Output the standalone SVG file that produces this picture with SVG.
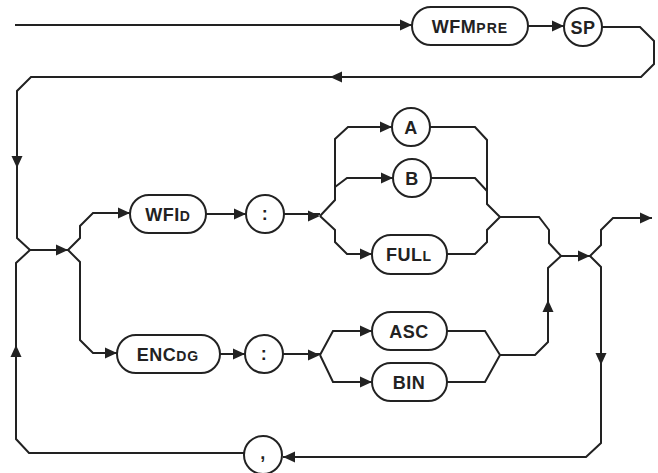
<svg xmlns="http://www.w3.org/2000/svg" width="658" height="473" viewBox="0 0 658 473">
<defs>
<path id="ah" d="M0,0 L-12,-5.5 L-12,5.5 Z"/>
<style>
.ln{fill:none;stroke:#222;stroke-width:2;stroke-linejoin:miter}
.nd{fill:#fff;stroke:#222;stroke-width:2}
.ar{fill:#222}
.t{font-family:"Liberation Sans",Arial,sans-serif;font-weight:bold;font-size:18px;fill:#222;text-anchor:middle;letter-spacing:0.5px}
.s{font-size:14px;letter-spacing:1px}
</style>
</defs>
<rect width="658" height="473" fill="#fff"/>
<g id="connectors">
<path class="ln" d="M15,25 H412"/>
<path class="ln" d="M528,26 H564"/>
<path class="ln" d="M602,27 H640 L654,41 V64 L641,77 H31 L17,91 V238 L30,250 H68"/>
<path class="ln" d="M244,453 H29 L16,439 V263 L30,250"/>
<path class="ln" d="M68,250 L80,238 V226 L93,213 H130"/>
<path class="ln" d="M68,250 L80,262 V340 L93,353 H117"/>
<path class="ln" d="M206,214 H246"/>
<path class="ln" d="M284,214 H320"/>
<path class="ln" d="M320,216 L335,200 V139 L348,127 H392"/>
<path class="ln" d="M335,187 L347,178 H393"/>
<path class="ln" d="M320,216 L335,230 V242 L347,254 H372"/>
<path class="ln" d="M430,127 H475 L487,140 V204 L500,217"/>
<path class="ln" d="M431,178 H475 L487,191"/>
<path class="ln" d="M447,254 H475 L487,242 V230 L500,217"/>
<path class="ln" d="M500,217 H539 L549,230 V243 L561,256 H590"/>
<path class="ln" d="M590,256 L601,245 V230 L613,218 H652"/>
<path class="ln" d="M590,256 L601,267 V443 L586,457 H283"/>
<path class="ln" d="M220,354 H245"/>
<path class="ln" d="M283,354 H320"/>
<path class="ln" d="M320,355 L333,331 H372"/>
<path class="ln" d="M320,355 L333,382 H372"/>
<path class="ln" d="M447,331 H485 L500,355 L485,382 H447"/>
<path class="ln" d="M500,355 H535 L548,342 V268 L561,256"/>
<g class="ar">
<use href="#ah" transform="translate(412,25)"/>
<use href="#ah" transform="translate(564,26)"/>
<use href="#ah" transform="translate(330,77) rotate(180)"/>
<use href="#ah" transform="translate(17,168) rotate(90)"/>
<use href="#ah" transform="translate(68,250)"/>
<use href="#ah" transform="translate(130,213)"/>
<use href="#ah" transform="translate(117,353)"/>
<use href="#ah" transform="translate(246,214)"/>
<use href="#ah" transform="translate(320,216)"/>
<use href="#ah" transform="translate(245,354)"/>
<use href="#ah" transform="translate(320,355)"/>
<use href="#ah" transform="translate(392,127)"/>
<use href="#ah" transform="translate(393,178)"/>
<use href="#ah" transform="translate(372,254)"/>
<use href="#ah" transform="translate(372,331)"/>
<use href="#ah" transform="translate(372,382)"/>
<use href="#ah" transform="translate(548,300) rotate(-90)"/>
<use href="#ah" transform="translate(590,256)"/>
<use href="#ah" transform="translate(652,218)"/>
<use href="#ah" transform="translate(601,365) rotate(90)"/>
<use href="#ah" transform="translate(283,457) rotate(180)"/>
<use href="#ah" transform="translate(16,345) rotate(-90)"/>
</g>
</g>
<g id="wfmpre"><rect class="nd" x="412" y="7" width="116" height="38" rx="19"/><text class="t" x="470" y="33">WFM<tspan class="s">PRE</tspan></text></g>
<g id="sp"><circle class="nd" cx="583" cy="27" r="19"/><text class="t" x="583" y="33.5">SP</text></g>
<g id="wfid"><rect class="nd" x="130" y="195" width="76" height="38" rx="19"/><text class="t" x="168" y="220.5">WFI<tspan class="s">D</tspan></text></g>
<g id="colon1"><circle class="nd" cx="265" cy="214" r="19"/><text class="t" x="265" y="220">:</text></g>
<g id="encdg"><rect class="nd" x="117" y="335" width="103" height="38" rx="19"/><text class="t" x="168" y="360.5">ENC<tspan class="s">DG</tspan></text></g>
<g id="colon2"><circle class="nd" cx="264" cy="354" r="19"/><text class="t" x="264" y="360">:</text></g>
<g id="a"><circle class="nd" cx="411" cy="127" r="19"/><text class="t" x="411" y="133.5">A</text></g>
<g id="b"><circle class="nd" cx="412" cy="178" r="19"/><text class="t" x="412" y="184.5">B</text></g>
<g id="full"><rect class="nd" x="372" y="235" width="75" height="39" rx="19"/><text class="t" x="409" y="261">FUL<tspan class="s">L</tspan></text></g>
<g id="asc"><rect class="nd" x="372" y="312" width="75" height="38" rx="19"/><text class="t" x="409" y="337.5">ASC</text></g>
<g id="bin"><rect class="nd" x="372" y="363" width="75" height="38" rx="19"/><text class="t" x="409" y="388.5">BIN</text></g>
<g id="comma"><circle class="nd" cx="263" cy="455" r="19"/><text class="t" x="263" y="459">,</text></g>
</svg>
